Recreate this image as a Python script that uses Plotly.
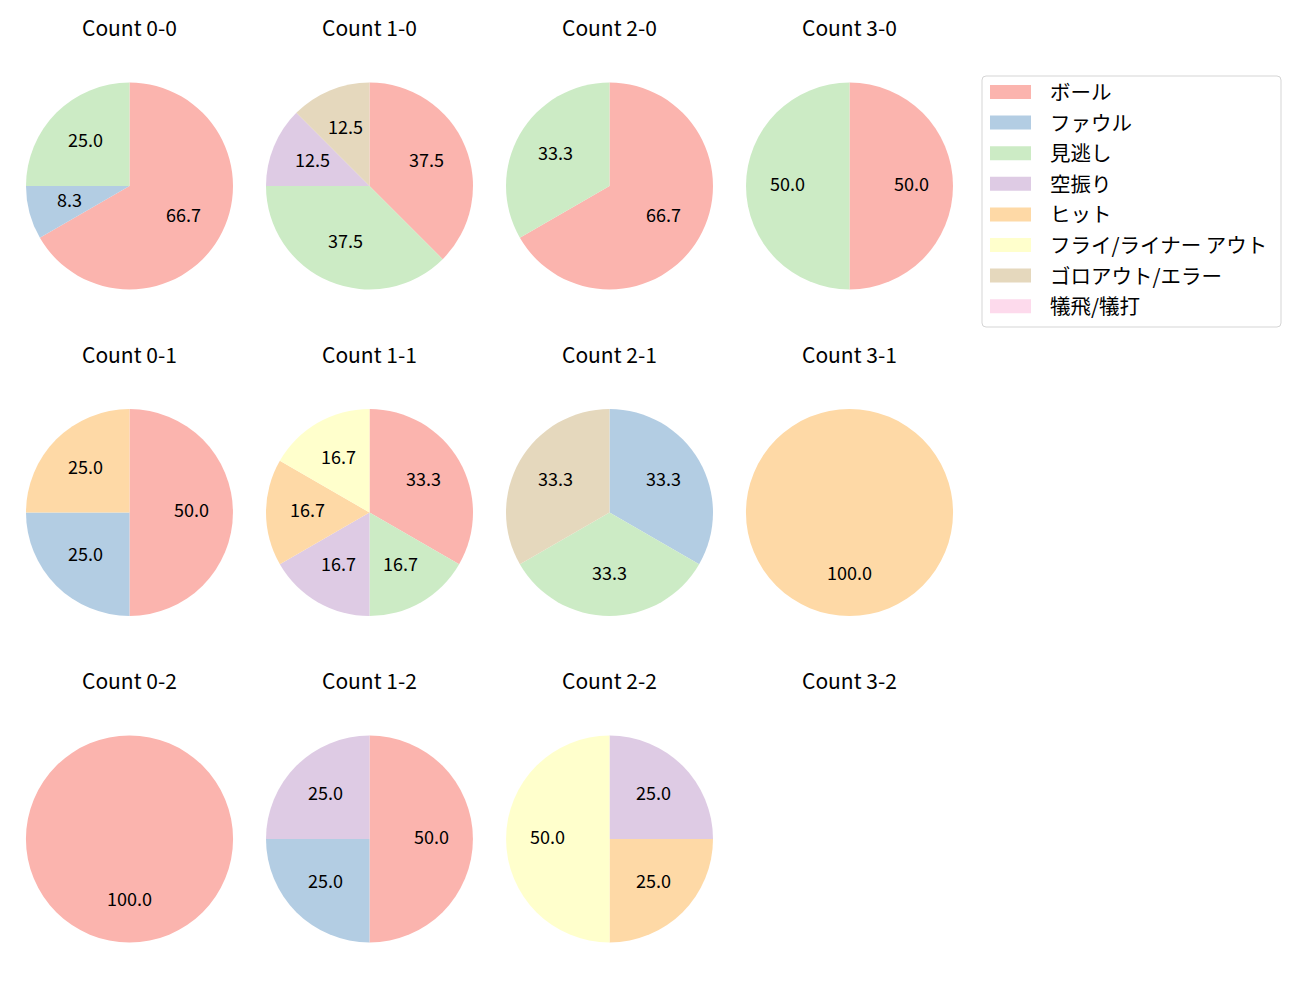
import math
import plotly.graph_objects as go

# the page puts the figure 8px in from the window corner
OFF = 8
W, H = 1300 - OFF, 1000 - OFF

categories = ["ボール", "ファウル", "見逃し", "空振り", "ヒット",
              "フライ/ライナー アウト", "ゴロアウト/エラー", "犠飛/犠打"]
colors = ["#fbb4ae", "#b3cde3", "#ccebc5", "#decbe4", "#fed9a6",
          "#ffffcc", "#e5d8bd", "#fddaec"]

# pitch counts per situation, in category order
titles = ["Count 0-0", "Count 1-0", "Count 2-0", "Count 3-0",
          "Count 0-1", "Count 1-1", "Count 2-1", "Count 3-1",
          "Count 0-2", "Count 1-2", "Count 2-2", "Count 3-2"]
counts = [
    [8, 1, 3, 0, 0, 0, 0, 0],
    [3, 0, 3, 1, 0, 0, 1, 0],
    [2, 0, 1, 0, 0, 0, 0, 0],
    [1, 0, 1, 0, 0, 0, 0, 0],
    [2, 1, 0, 0, 1, 0, 0, 0],
    [2, 0, 1, 1, 1, 1, 0, 0],
    [0, 1, 1, 0, 0, 0, 1, 0],
    [0, 0, 0, 0, 1, 0, 0, 0],
    [1, 0, 0, 0, 0, 0, 0, 0],
    [2, 1, 0, 1, 0, 0, 0, 0],
    [0, 0, 0, 1, 1, 2, 0, 0],
    [0, 0, 0, 0, 0, 0, 0, 0],
]

FONT = "Noto Sans CJK JP"
col_cx = [129.5, 369.5, 609.5, 849.5]
row_cy = [186, 512.5, 839]
title_dy = 158
R = 103.5


def px(x):
    return (x - OFF) / W


def py(y):
    return 1 - (y - OFF) / H


fig = go.Figure()
annotations = []
shapes = []

for k, (title, vals) in enumerate(zip(titles, counts)):
    r, c = divmod(k, 4)
    cx, cy = col_cx[c], row_cy[r]
    annotations.append(dict(x=px(cx), y=py(cy - title_dy - 1), xref="paper", yref="paper",
                            text=title, showarrow=False, xanchor="center",
                            yanchor="middle",
                            font=dict(size=21, family=FONT, color="#000")))
    total = sum(vals)
    if total == 0:
        continue
    labs = [categories[i] for i, v in enumerate(vals) if v > 0]
    vs = [v for v in vals if v > 0]
    cs = [colors[i] for i, v in enumerate(vals) if v > 0]
    fig.add_trace(go.Pie(
        labels=labs, values=vs, sort=False, direction="clockwise", rotation=0,
        marker=dict(colors=cs, line=dict(width=0)), textinfo="none",
        hoverinfo="label+percent", showlegend=False,
        domain=dict(x=[px(cx - R), px(cx + R)], y=[py(cy + R), py(cy - R)]),
    ))
    cum = 0
    for v in vs:
        frac = v / total
        ang = math.radians(90 - 360 * (cum + frac / 2))
        tx = cx + 0.6 * R * math.cos(ang)
        ty = cy - 0.6 * R * math.sin(ang) - 3
        annotations.append(dict(x=px(tx), y=py(ty), xref="paper", yref="paper",
                                text=f"{100 * frac:.1f}", showarrow=False,
                                font=dict(size=18, family=FONT, color="#000"),
                                xanchor="center", yanchor="middle"))
        cum += frac

# legend box
x0, x1, y0, y1, rr = 982 - OFF, 1281 - OFF, 76 - OFF, 327 - OFF, 4
path = (f"M {x0 + rr},{y0} L {x1 - rr},{y0} Q {x1},{y0} {x1},{y0 + rr} "
        f"L {x1},{y1 - rr} Q {x1},{y1} {x1 - rr},{y1} L {x0 + rr},{y1} "
        f"Q {x0},{y1} {x0},{y1 - rr} L {x0},{y0 + rr} Q {x0},{y0} {x0 + rr},{y0} Z")
shapes.append(dict(type="path", xref="x", yref="y", path=path,
                   line=dict(color="#d5d5d5", width=1), fillcolor="rgba(255,255,255,0.8)"))
for i, (name, col) in enumerate(zip(categories, colors)):
    yy = 92 + i * 30.6 - OFF
    shapes.append(dict(type="rect", xref="x", yref="y", x0=990 - OFF, x1=1031 - OFF,
                       y0=yy - 7, y1=yy + 7, fillcolor=col, line=dict(width=0)))
    annotations.append(dict(x=1048 - OFF, y=yy - 1, xref="x", yref="y", text=name,
                            showarrow=False, xanchor="left", yanchor="middle",
                            font=dict(size=20.5, family=FONT, color="#000")))

fig.update_layout(
    width=W, height=H, margin=dict(l=0, r=0, t=0, b=0),
    paper_bgcolor="white", plot_bgcolor="rgba(0,0,0,0)",
    xaxis=dict(range=[0, W], visible=False, fixedrange=True, domain=[0, 1]),
    yaxis=dict(range=[H, 0], visible=False, fixedrange=True, domain=[0, 1]),
    annotations=annotations, shapes=shapes, showlegend=False,
)
fig.write_html("out.html")
